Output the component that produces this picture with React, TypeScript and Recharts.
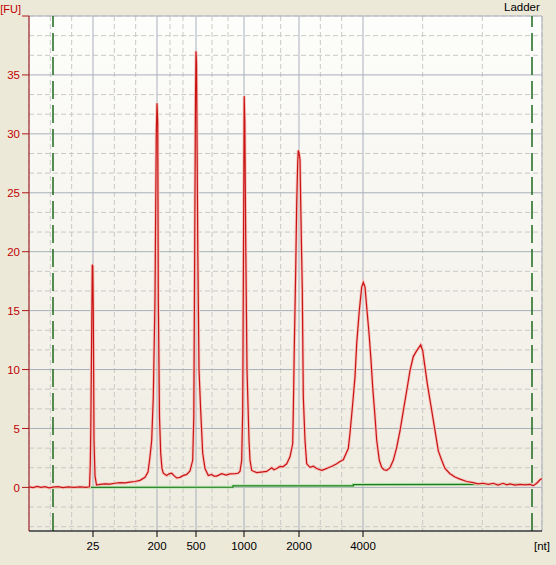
import React from 'react';
import { LineChart, Line, XAxis, YAxis, CartesianGrid, ReferenceLine, Label } from 'recharts';

// Migration time (s) of each sampled point of the ladder trace
const traceTimes = [
  19.0, 19.4, 19.8, 20.2, 20.6, 21.0, 21.4, 21.9, 22.4, 22.9, 23.5, 24.1, 24.7,
  25.05, 25.13, 25.18, 25.27, 25.33, 25.38, 25.43, 25.5, 25.6, 25.75,
  26.1, 26.6, 27.1, 27.6, 28.1, 28.6, 29.1, 29.6, 30.1, 30.6, 30.9,
  31.1, 31.27, 31.43, 31.6, 31.73, 31.8, 31.87, 31.93, 32.05, 32.17, 32.3, 32.43,
  32.77, 33.0, 33.27, 33.5, 33.77, 34.1, 34.4, 34.77, 35.1,
  35.37, 35.48, 35.57, 35.65, 35.7, 35.75, 35.8, 35.88, 36.0, 36.17, 36.37, 36.6,
  36.93, 37.27, 37.5, 37.77, 38.27, 38.7, 39.1, 39.6, 39.9, 40.1,
  40.27, 40.37, 40.45, 40.52, 40.58, 40.68, 40.8, 41.0, 41.1, 41.27,
  41.77, 42.2, 42.77, 43.27, 43.5, 43.77, 44.1, 44.4, 44.77, 45.1,
  45.37, 45.43, 45.53, 45.67, 45.77, 45.87, 45.93, 46.0, 46.1, 46.2, 46.33, 46.43, 46.6, 46.77,
  47.1, 47.43, 47.77, 48.27, 48.6, 48.93, 49.3, 49.77, 50.1, 50.43, 50.77, 50.93,
  51.1, 51.37, 51.6, 51.77, 52.03, 52.27, 52.43, 52.6, 52.77, 53.0, 53.2, 53.37, 53.6, 53.77,
  54.03, 54.27, 54.5, 54.77, 55.1, 55.43, 55.77, 56.1, 56.43, 56.77, 57.1, 57.43, 57.7,
  57.93, 58.17, 58.37, 58.6, 58.83, 59.1, 59.43, 59.7, 59.93, 60.27, 60.6, 61.1, 61.6,
  62.1, 62.77, 63.43, 63.9, 64.43, 64.93, 65.43, 65.9, 66.4, 66.8, 67.1, 67.6, 68.1,
  68.6, 69.1, 69.43, 69.77, 70.1, 70.3,
];

// Fluorescence (FU) at each time above
const traceFU = [
  0.05, -0.02, 0.08, 0.0, 0.06, -0.04, 0.02, 0.06, -0.02, 0.04, 0.0, 0.05, 0.0,
  0.05, 2.0, 5.0, 13.3, 18.9, 18.8, 15.0, 4.0, 1.0, 0.2,
  0.25, 0.3, 0.28, 0.35, 0.4, 0.38, 0.45, 0.5, 0.6, 0.85, 1.3,
  2.6, 4.0, 7.7, 16, 30, 32.6, 31, 15.9, 6, 2.9, 1.6, 1.2,
  1.0, 1.15, 1.2, 1.0, 0.8, 0.85, 1.0, 1.1, 1.4,
  2.3, 6, 20, 33, 37.0, 36, 30, 20, 10, 6.5, 2.9, 1.6,
  1.0, 1.1, 0.95, 0.96, 1.16, 1.05, 1.15, 1.16, 1.2, 1.36,
  2.3, 6.5, 20, 33.2, 31, 20, 10, 4, 2.3, 1.44,
  1.25, 1.3, 1.36, 1.67, 1.5, 1.6, 1.78, 1.75, 2.0, 2.6,
  3.7, 6.4, 11.9, 18.4, 24.1, 27.5, 28.6, 28.4, 27.8, 22.7, 16.7, 7.7, 4.0, 2.0,
  1.7, 1.8, 1.6, 1.44, 1.55, 1.67, 1.8, 2.0, 2.2, 2.35, 3.0, 3.3,
  4.6, 7.1, 9.4, 12.2, 15.0, 17.0, 17.4, 17.0, 15.3, 13.1, 10.8, 8.5, 6.0, 4.0,
  2.3, 1.7, 1.5, 1.44, 1.67, 2.3, 3.4, 4.8, 6.5, 8.2, 9.9, 11.1, 11.5,
  11.8, 12.1, 11.6, 10.2, 8.8, 7.4, 5.7, 4.3, 3.1, 2.3, 1.6, 1.16, 0.88,
  0.7, 0.5, 0.4, 0.3, 0.35, 0.25, 0.35, 0.2, 0.35, 0.22, 0.3, 0.2, 0.25,
  0.22, 0.25, 0.15, 0.35, 0.65, 0.75,
];

// Baseline (green) polyline
const baselineTimes = [21.4, 39.4, 39.4, 51.43, 51.43, 69.3];
const baselineFU = [0.0, 0.03, 0.13, 0.13, 0.24, 0.26];

// Ladder sizes and the times where they sit on the axis
const ladderSizes = ['25', '200', '500', '1000', '2000', '4000'];
const ladderTickTimes = [25.4, 31.8, 35.7, 40.5, 46.0, 52.4];

// Lower / upper markers
const markerTimes = [21.4, 69.3];

const yTicks = [0, 5, 10, 15, 20, 25, 30, 35, 40];
const xDomain: [number, number] = [19.0, 70.3];
const yDomain: [number, number] = [-3.7, 40];

const traceData = traceTimes.map((t, i) => ({ t, v: traceFU[i] }));
const baselineData = baselineTimes.map((t, i) => ({ t, v: baselineFU[i] }));

// minor grid: thirds between major positions
const majorX = [xDomain[0], ...ladderTickTimes, xDomain[1]];
const minorX: number[] = [];
for (let i = 0; i < majorX.length - 1; i++) {
  const a = majorX[i], b = majorX[i + 1];
  minorX.push(a + (b - a) / 3, a + (2 * (b - a)) / 3);
}
const minorY: number[] = [];
for (let k = -2; k <= 23; k++) {
  if (k % 3 !== 0) minorY.push((k * 5) / 3);
}

const FONT = '"Liberation Sans", Arial, sans-serif';

const YTick = (props: any) => {
  const { x, y, payload } = props;
  const isTop = payload.value === 40;
  return (
    <text
      x={isTop ? x + 1 : x}
      y={isTop ? y - 7 : y}
      dy="0.36em"
      textAnchor="end"
      fill="#C00000"
      fontSize={isTop ? 11 : 11.5}
      fontFamily={FONT}
    >
      {isTop ? '[FU]' : payload.value}
    </text>
  );
};

const XTick = (props: any) => {
  const { x, y, payload } = props;
  const idx = ladderTickTimes.indexOf(payload.value);
  return (
    <text x={x} y={y} dy={11} textAnchor="middle" fill="#000" fontSize={11.5} fontFamily={FONT}>
      {idx >= 0 ? ladderSizes[idx] : ''}
    </text>
  );
};

export default function App() {
  return (
    <div style={{ position: 'absolute', left: 0, top: 0, width: 556, height: 565, background: '#ECE9D8' }}>
      <LineChart width={556} height={565} margin={{ top: 16, right: 14, bottom: 0, left: 0 }}>
        <defs>
          <linearGradient id="plotBg" x1="0" y1="0" x2="0" y2="1">
            <stop offset="0" stopColor="#FDFDFB" />
            <stop offset="1" stopColor="#EEEBDF" />
          </linearGradient>
        </defs>
        <XAxis
          dataKey="t"
          type="number"
          domain={xDomain}
          ticks={ladderTickTimes}
          interval={0}
          allowDataOverflow
          height={34}
          stroke="#000"
          tickSize={6}
          tickMargin={2}
          tick={<XTick />}
        >
          <Label
            content={(p: any) => {
              const vb = p.viewBox || { x: 29, y: 531, width: 513 };
              return (
                <text x={vb.x + vb.width + 8} y={vb.y + 19} textAnchor="end" fill="#000" fontSize={11.5} fontFamily={FONT}>
                  [nt]
                </text>
              );
            }}
          />
        </XAxis>
        <XAxis xAxisId="minor" type="number" dataKey="t" domain={xDomain} ticks={minorX} interval={0} allowDataOverflow hide />
        <YAxis
          type="number"
          domain={yDomain}
          ticks={yTicks}
          interval={0}
          allowDataOverflow
          width={29}
          stroke="#B01818"
          tickSize={7}
          tickMargin={2}
          tick={<YTick />}
        />
        <YAxis yAxisId="minor" type="number" domain={yDomain} ticks={minorY} interval={0} allowDataOverflow hide />
        <CartesianGrid xAxisId="minor" yAxisId="minor" stroke="#C9C9C6" strokeDasharray="5 3" fill="url(#plotBg)" fillOpacity={1} />
        <CartesianGrid stroke="#A9B0BB" strokeDasharray="" />
        {markerTimes.map((t) => (
          <ReferenceLine key={t} x={t} stroke="#1E6A1E" strokeWidth={1.5} strokeDasharray="18 6" />
        ))}
        <Line data={baselineData} dataKey="v" type="linear" stroke="#B8E6B0" strokeWidth={3} dot={false} isAnimationActive={false} />
        <Line data={baselineData} dataKey="v" type="linear" stroke="#1F7A1F" strokeWidth={1.3} dot={false} isAnimationActive={false} />
        <Line data={traceData} dataKey="v" type="linear" stroke="#F6C4BE" strokeWidth={3} dot={false} isAnimationActive={false} />
        <Line data={traceData} dataKey="v" type="linear" stroke="#C81414" strokeWidth={1.2} dot={false} isAnimationActive={false} />
      </LineChart>
      <div style={{ position: 'absolute', left: 504, top: 1, fontSize: 11.5, fontFamily: FONT, color: '#000' }}>Ladder</div>
    </div>
  );
}
